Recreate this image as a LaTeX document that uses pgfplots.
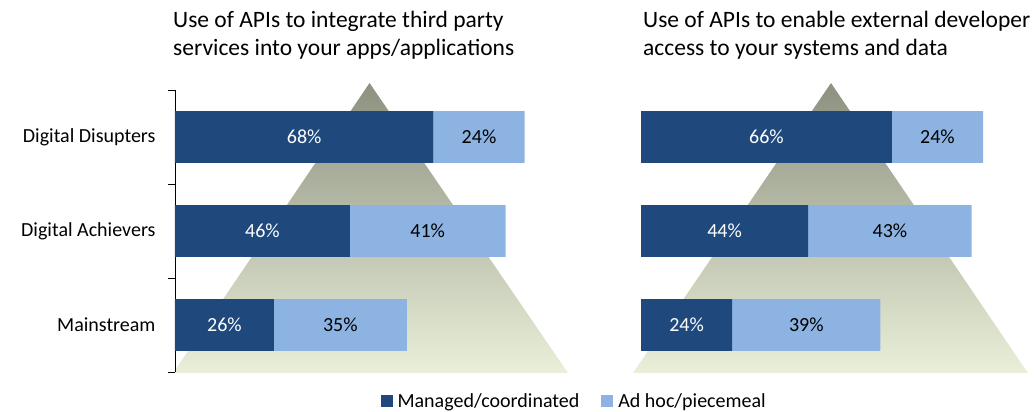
\documentclass[border=0pt]{standalone}
\usepackage{pgfplots}
\pgfplotsset{compat=1.18}
\usepackage{fontspec}
\setmainfont{Carlito}
\definecolor{darkb}{RGB}{31,73,125}
\definecolor{lightb}{RGB}{141,179,226}
\definecolor{tritop}{RGB}{140,145,128}
\definecolor{tribot}{RGB}{234,239,217}
\pgfplotsset{
  panel/.style={scale only axis, height=282pt, ymin=-0.5, ymax=2.5, xmin=0, clip=false,
    anchor=south west},
  /pgf/number format/assume math mode=true,
}
\begin{document}
\begin{tikzpicture}[x=1pt,y=1pt]
\path[use as bounding box] (0pt,0pt) rectangle (1034pt,412pt);
% ---------- left panel ----------
\begin{axis}[panel, at={(175pt,40pt)}, width=395.2pt, xmax=104, hide axis]
\addplot[draw=none, top color=tritop, bottom color=tribot]
  coordinates {(-0.5,-0.51) (103.4,-0.51) (51.2,2.574) (-0.5,-0.51)};
\end{axis}
\begin{axis}[panel, at={(175pt,40pt)}, width=395.2pt, xmax=104,
  xbar stacked, bar width=0.55,
  hide x axis, axis y line*=left, axis line style={black, line width=0.8pt},
  ytick={0,1,2}, yticklabels={Mainstream, Digital Achievers, Digital Disupters},
  major tick length=0pt,
  yticklabel style={font=\fontsize{20}{24}\selectfont, text=black, xshift=-16pt},
  extra y ticks={-0.5,0.5,1.5,2.5}, extra y tick labels={},
  extra y tick style={major tick length=7pt, tick align=outside, tick style={black, line width=0.8pt}},
  legend columns=2,
  legend style={at={(rel axis cs:1.01,-0.103)}, anchor=center, draw=none, fill=none,
    font=\fontsize{20}{24}\selectfont, /tikz/every even column/.append style={column sep=20pt},
    /tikz/every odd column/.append style={column sep=0pt}},
  legend image code/.code={\fill[#1] (0pt,-6pt) rectangle (12pt,6pt); \path (15pt,0pt);},
]
\addplot[fill=darkb, draw=none] coordinates {(26,0) (46,1) (68,2)};
\addplot[fill=lightb, draw=none] coordinates {(35,0) (41,1) (24,2)};
\legend{Managed/coordinated, Ad hoc/piecemeal}
\end{axis}
\begin{axis}[panel, at={(175pt,40pt)}, width=395.2pt, xmax=104, hide axis,
  nodes near coords, point meta=explicit symbolic,
  nodes near coords style={anchor=center, font=\fontsize{20}{24}\selectfont}]
\addplot[draw=none, nodes near coords style={text=white}] coordinates {(13,0) [26\%] (23,1) [46\%] (34,2) [68\%]};
\addplot[draw=none, nodes near coords style={text=black}] coordinates {(43.5,0) [35\%] (66.5,1) [41\%] (80,2) [24\%]};
\end{axis}
% ---------- right panel ----------
\begin{axis}[panel, at={(641pt,40pt)}, width=387.6pt, xmax=102, hide axis]
\addplot[draw=none, top color=tritop, bottom color=tribot]
  coordinates {(-2.1,-0.51) (101.8,-0.51) (50.0,2.574) (-2.1,-0.51)};
\end{axis}
\begin{axis}[panel, at={(641pt,40pt)}, width=387.6pt, xmax=102,
  xbar stacked, bar width=0.55, hide axis]
\addplot[fill=darkb, draw=none] coordinates {(24,0) (44,1) (66,2)};
\addplot[fill=lightb, draw=none] coordinates {(39,0) (43,1) (24,2)};
\end{axis}
\begin{axis}[panel, at={(641pt,40pt)}, width=387.6pt, xmax=102, hide axis,
  nodes near coords, point meta=explicit symbolic,
  nodes near coords style={anchor=center, font=\fontsize{20}{24}\selectfont}]
\addplot[draw=none, nodes near coords style={text=white}] coordinates {(12,0) [24\%] (22,1) [44\%] (33,2) [66\%]};
\addplot[draw=none, nodes near coords style={text=black}] coordinates {(43.5,0) [39\%] (65.5,1) [43\%] (78,2) [24\%]};
\end{axis}
% ---------- titles ----------
\node[anchor=base west, inner sep=0pt, font=\fontsize{23.5}{28}\selectfont] at (173pt,384pt) {Use of APIs to integrate third party};
\node[anchor=base west, inner sep=0pt, font=\fontsize{23.5}{28}\selectfont] at (173pt,356pt) {services into your apps/applications};
\node[anchor=base west, inner sep=0pt, font=\fontsize{23.5}{28}\selectfont] at (643pt,384pt) {Use of APIs to enable external developer};
\node[anchor=base west, inner sep=0pt, font=\fontsize{23.5}{28}\selectfont] at (643pt,356pt) {access to your systems and data};
\end{tikzpicture}
\end{document}
